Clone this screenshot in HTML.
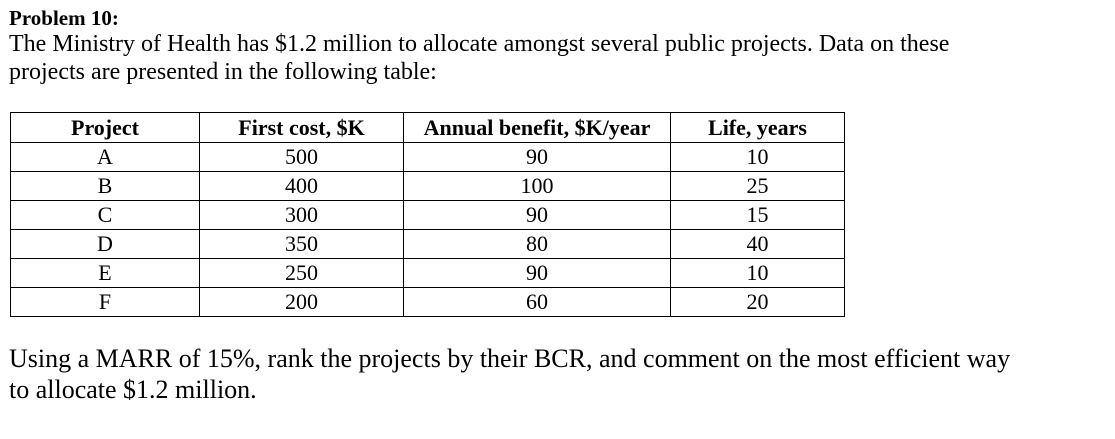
<!DOCTYPE html>
<html><head><meta charset="utf-8"><style>
body{margin:0;width:1115px;height:439px;background:#fff;font-family:"Liberation Serif",serif;color:#000;position:relative;overflow:hidden}
.t{position:absolute;left:9px;font-size:24px;line-height:28px;white-space:nowrap}
table{position:absolute;left:10px;top:112px;border-collapse:collapse;font-size:22px;font-family:"Liberation Serif",serif}
td,th{border:1px solid #000;text-align:center;padding:0;height:28px;line-height:28px;font-family:"Liberation Serif",serif}
th{height:29px;font-weight:bold;font-size:22px}
</style></head><body>
<div class="t" style="top:4px;font-weight:bold;font-size:21px">Problem 10:</div>
<div class="t" style="top:30px">The Ministry of Health has $1.2 million to allocate amongst several public projects. Data on these<br>projects are presented in the following table:</div>
<table>
<tr><th style="width:188px">Project</th><th style="width:203px">First cost, $K</th><th style="width:266px">Annual benefit, $K/year</th><th style="width:173px">Life, years</th></tr>
<tr><td>A</td><td>500</td><td>90</td><td>10</td></tr>
<tr><td>B</td><td>400</td><td>100</td><td>25</td></tr>
<tr><td>C</td><td>300</td><td>90</td><td>15</td></tr>
<tr><td>D</td><td>350</td><td>80</td><td>40</td></tr>
<tr><td>E</td><td>250</td><td>90</td><td>10</td></tr>
<tr><td>F</td><td>200</td><td>60</td><td>20</td></tr>
</table>
<div class="t" style="top:343px;font-size:26px;line-height:31px">Using a MARR of 15%, rank the projects by their BCR, and comment on the most efficient way<br>to allocate $1.2 million.</div>
</body></html>
